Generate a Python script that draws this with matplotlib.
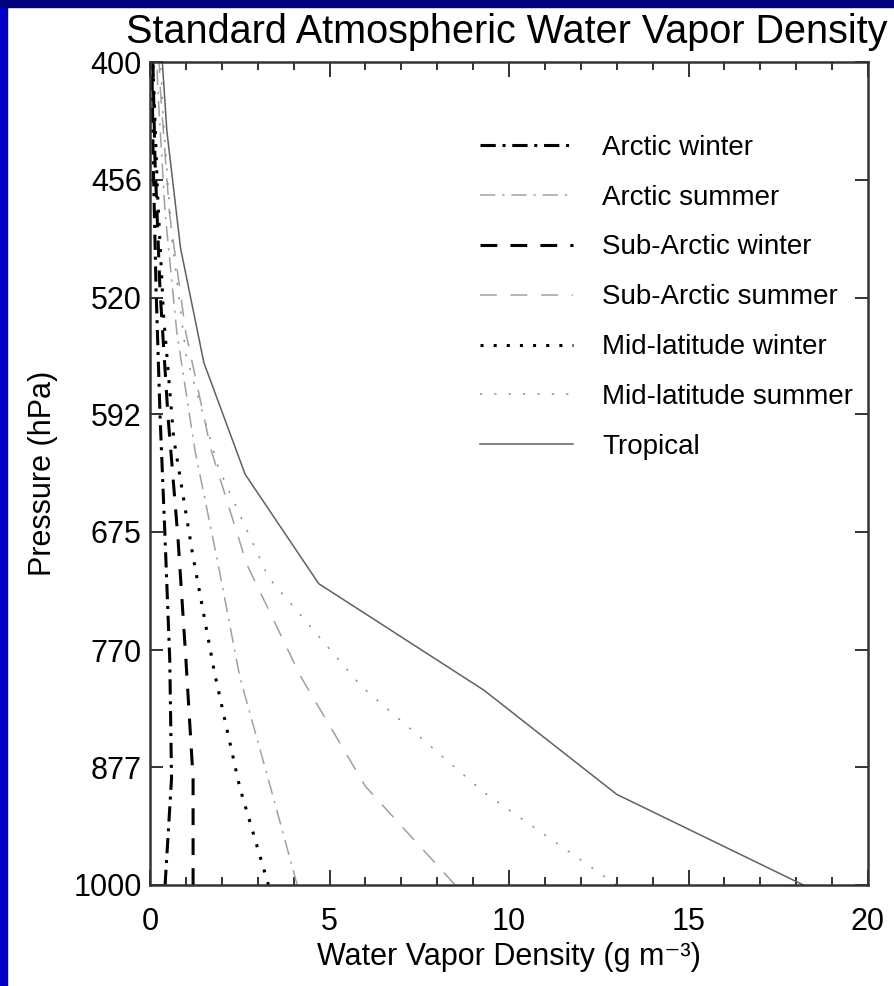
import matplotlib.pyplot as plt
from matplotlib.patches import Rectangle
from matplotlib.ticker import MultipleLocator, NullLocator

plt.rcParams['font.family'] = ['Liberation Sans', 'DejaVu Sans']

# Profiles: pressure (hPa) and water vapor density (g m^-3)
arctic_winter_p = [1000, 888, 778, 680, 593, 516, 447, 385]
arctic_winter = [0.42, 0.60, 0.55, 0.42, 0.28, 0.17, 0.09, 0.04]

arctic_summer_p = [1000, 896, 793, 700, 616, 541, 473, 413, 359]
arctic_summer = [4.1, 3.35, 2.5, 1.9, 1.25, 0.75, 0.42, 0.22, 0.10]

subarctic_winter_p = [1000, 888, 778, 680, 593, 516, 447, 385]
subarctic_winter = [1.2, 1.2, 1.0, 0.78, 0.50, 0.28, 0.14, 0.06]

subarctic_summer_p = [1000, 896, 793, 700, 616, 541, 473, 413, 359]
subarctic_summer = [8.5, 6.0, 4.2, 2.7, 1.7, 1.0, 0.54, 0.29, 0.13]

midlat_winter_p = [1000, 897, 790, 694, 608, 531, 463, 402, 348]
midlat_winter = [3.3, 2.5, 1.8, 1.2, 0.66, 0.38, 0.21, 0.085, 0.035]

midlat_summer_p = [1000, 902, 802, 710, 628, 554, 487, 426, 372]
midlat_summer = [13.0, 9.3, 5.9, 3.3, 1.9, 1.0, 0.61, 0.37, 0.21]

tropical_p = [1000, 904, 805, 715, 633, 559, 492, 432, 378]
tropical = [18.2, 13.0, 9.3, 4.7, 2.65, 1.5, 0.85, 0.47, 0.25]

pressure_ticks = [400, 456, 520, 592, 675, 770, 877, 1000]
pressure_labels = ['400', '456', '520', '592', '675', '770', '877', '1000']

fig = plt.figure(figsize=(8.95, 9.86), dpi=100)
# blue slide border along the top and left edge
fig.patches.append(Rectangle((0, 0), 7 / 895, 1, transform=fig.transFigure,
                             color='#0000c8', zorder=0))
fig.patches.append(Rectangle((0, 1 - 7 / 986), 1, 7 / 986, transform=fig.transFigure,
                             color='#000080', zorder=0))

ax = fig.add_axes([150 / 895, 1 - 885 / 986, 718 / 895, 823 / 986])

thick = 2.2
thin = 1.1
light = '#a0a0a0'
ax.plot(arctic_winter, arctic_winter_p, color='black', lw=thick,
        ls=(0, (5, 2.2, 1, 2.2)), label='Arctic winter')
ax.plot(arctic_summer, arctic_summer_p, color=light, lw=thin,
        ls=(0, (10, 4.5, 1.5, 4.5)), label='Arctic summer')
ax.plot(subarctic_winter, subarctic_winter_p, color='black', lw=thick,
        ls=(0, (5.5, 4.3)), label='Sub-Arctic winter')
ax.plot(subarctic_summer, subarctic_summer_p, color=light, lw=thin,
        ls=(0, (11, 9)), label='Sub-Arctic summer')
ax.plot(midlat_winter, midlat_winter_p, color='black', lw=thick,
        ls=(0, (1, 3.3)), label='Mid-latitude winter')
ax.plot(midlat_summer, midlat_summer_p, color='#8c8c8c', lw=thin,
        ls=(0, (1.4, 8)), label='Mid-latitude summer')
ax.plot(tropical, tropical_p, color='#606060', lw=thin, label='Tropical')

ax.set_xlim(0, 20)
ax.set_yscale('log')
ax.set_ylim(1000, 400)
ax.set_yticks(pressure_ticks, pressure_labels)
ax.yaxis.set_minor_locator(NullLocator())
ax.xaxis.set_major_locator(MultipleLocator(5))
ax.xaxis.set_minor_locator(MultipleLocator(1))

ax.tick_params(which='both', direction='in', top=True, right=True,
               width=1.4, color='#333333', labelsize=22)
ax.tick_params(axis='x', which='major', length=11, pad=16)
ax.tick_params(axis='x', which='minor', length=5.8)
ax.tick_params(axis='y', which='major', length=9.4, pad=6)
for s in ax.spines.values():
    s.set_linewidth(1.8)
    s.set_color('#333333')

ax.set_xlabel('Water Vapor Density (g m⁻³)', fontsize=22)
ax.xaxis.set_label_coords(0.5, -0.069)
ax.set_ylabel('Pressure (hPa)', fontsize=22)
ax.yaxis.set_label_coords(-0.128, 0.5)

fig.text(507 / 895, 1 - 32 / 986, 'Standard Atmospheric Water Vapor Density',
         ha='center', va='center', fontsize=28.5)

ax.legend(loc='upper left', bbox_to_anchor=(0.4596, 0.9117), frameon=False,
          fontsize=20, handlelength=3.35, handletextpad=1.04, labelspacing=0.86,
          borderpad=0, borderaxespad=0)

plt.savefig('out.png', dpi=100)
